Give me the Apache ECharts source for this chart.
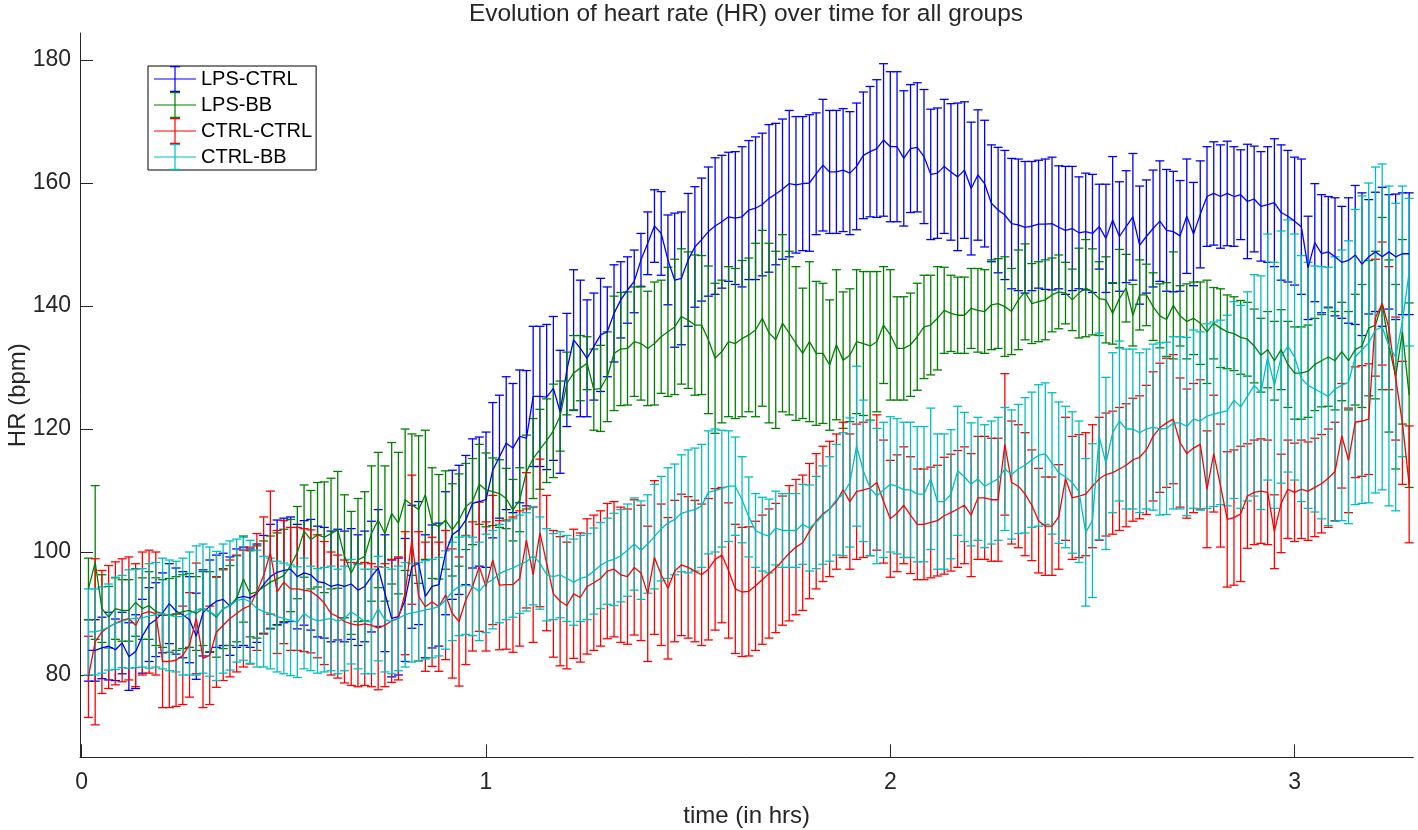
<!DOCTYPE html>
<html><head><meta charset="utf-8">
<script src="https://cdn.jsdelivr.net/npm/echarts@6/dist/echarts.min.js"></script>
<style>html,body{margin:0;padding:0;background:#fff}#c{width:1418px;height:830px}</style>
</head><body><div id="c"></div>
<script>
// sample times: one reading per minute, minute 1 .. 197
const sampleMinutes = Array.from({length: 197}, (_, i) => i + 1);
const timeHours = sampleMinutes.map(m => m / 60);

const xTicks = [0, 1, 2, 3];
const yTicks = [80, 100, 120, 140, 160, 180];

const groupNames = ['LPS-CTRL', 'LPS-BB', 'CTRL-CTRL', 'CTRL-BB'];

const lpsCtrlMean = [84.0,84.0,84.4,84.7,84.1,85.2,83.0,83.8,86.3,88.2,
89.0,90.1,91.6,90.4,89.8,89.0,86.3,90.1,91.2,92.0,
92.3,91.2,92.5,92.8,92.5,93.3,94.7,96.0,96.7,97.0,
97.2,96.0,96.6,96.3,95.2,95.0,94.4,94.7,94.4,94.8,
93.8,94.4,96.0,97.4,93.3,89.2,89.5,92.2,97.6,98.2,
92.8,94.4,94.7,99.8,102.8,103.6,105.2,107.9,108.2,108.5,
113.3,115.5,117.7,116.9,118.8,118.5,125.3,125.3,125.2,126.6,
122.8,129.6,134.5,133.1,131.5,133.4,135.3,135.8,138.8,141.0,
142.6,144.0,147.5,150.2,153.0,151.8,147.5,144.2,144.5,147.5,
149.6,150.8,152.1,153.0,153.7,154.5,154.3,154.5,155.6,155.9,
156.5,157.5,158.2,159.0,159.9,159.7,159.9,160.0,161.5,162.9,
161.8,161.8,162.1,161.6,162.7,164.5,165.1,165.6,167.0,165.9,
165.9,164.0,165.6,165.8,164.3,161.4,161.6,162.7,161.8,161.0,
162.1,159.1,161.3,159.9,156.7,155.6,154.8,153.4,153.2,152.8,
153.0,153.3,153.3,153.4,152.8,152.3,152.6,151.9,152.1,151.8,
152.9,151.0,154.0,151.3,152.9,154.5,149.9,151.3,152.6,153.8,
152.3,152.1,151.4,154.6,151.7,154.9,157.8,158.3,157.8,158.3,
157.8,158.1,157.0,157.4,156.2,156.5,156.8,155.2,154.6,153.8,
152.9,146.2,150.3,148.5,148.8,148.0,147.1,147.4,148.3,146.8,
148.0,148.8,148.0,148.8,148.0,148.5,148.5];
const lpsCtrlErr = [5,5,5,5.5,5,5,5.5,6,6,6,
6,6.5,6.5,7,7,7,7,7,7.5,7.5,
7.5,8,8,8,8,8,8,8.5,8.5,8.5,
8.5,8.5,8.5,9,9,9,9,9,9,9,
9,9,9,9.5,9.5,9.5,9.5,10,10,10,
10,10,10,10,10.5,10.5,10.5,10.5,10.5,11,
11,10,10.8,10.5,10.8,11,11.4,11.4,11.8,11.7,
10.0,9.2,11.4,11.1,9.5,8.7,9.2,7.3,7.9,6.2,
5.4,5.1,4.3,5.1,5.9,6.8,7.3,10.9,10.8,10.8,
9.8,10.0,10.5,11.1,10.8,10.5,10.8,11.4,11.3,11.6,
11.6,12.0,11.5,11.4,11.9,11.1,10.9,11.1,9.9,10.7,
10.0,10.0,10.0,10.0,10.3,10.3,10.6,11.2,12.4,12.2,
12.2,11.0,10.4,10.5,10.9,10.6,10.6,10.9,11.1,12.0,
11.1,10.8,10.6,10.3,9.5,10.2,10.5,10.6,10.7,10.7,
10.5,10.4,10.6,10.8,10.0,10.4,10.1,9.1,9.5,9.6,
6.9,8.8,10.3,8.9,9.1,10.3,9.6,9.2,9.5,9.8,
9.9,9.8,9.0,9.3,8.4,8.7,8.1,8.4,8.4,8.5,
8.1,7.3,9.3,8.6,8.9,9.4,10.4,11.0,10.7,10.4,
11.0,8.4,9.6,9.6,9.0,9.6,9.1,10.2,11.3,11.6,
9.3,9.7,11.3,9.3,10.2,9.9,9.9];

const lpsBbMean = [94.0,98.3,90.8,89.4,90.8,90.5,90.5,91.8,90.8,91.3,
90.3,90.0,89.7,90.0,90.3,90.5,90.0,90.8,90.3,89.4,
90.8,91.3,92.4,95.6,93.2,93.5,94.3,95.1,95.6,96.2,
97.8,99.9,103.4,102.0,102.8,102.4,103.0,103.6,99.3,96.6,
98.7,99.3,103.0,105.2,103.0,106.3,104.7,108.5,107.7,106.9,
109.3,104.7,104.1,105.2,103.6,105.2,107.4,108.2,111.0,110.1,
109.8,109.5,108.7,106.8,108.5,113.0,115.2,116.7,118.1,119.7,
122.1,127.4,129.1,129.9,130.7,126.4,126.6,128.5,132.3,133.0,
133.1,134.2,133.9,133.1,133.9,135.0,135.8,136.6,138.3,137.7,
136.9,136.9,134.5,131.5,132.6,134.2,133.9,134.7,135.3,136.1,
138.0,135.6,134.5,137.2,135.6,133.9,132.3,134.2,132.3,132.3,
130.4,133.7,131.2,132.0,134.2,133.9,133.5,134.2,136.9,135.3,
133.1,133.1,133.7,135.0,136.6,136.9,138.0,139.3,138.8,138.5,
138.5,139.6,139.3,139.1,140.2,140.4,139.9,139.1,141.0,142.3,
140.4,140.7,141.0,141.8,142.3,142.1,141.0,142.1,142.9,142.3,
141.2,141.0,138.8,141.2,142.9,138.5,141.8,141.8,139.9,138.4,
137.8,140.1,138.4,137.5,138.0,137.2,135.8,137.2,136.4,135.8,
135.5,134.9,134.6,133.5,132.0,132.9,131.1,132.9,130.5,129.1,
129.1,129.4,130.5,131.1,131.7,131.1,132.6,131.1,132.9,133.5,
136.4,136.9,140.4,133.5,128.5,135.8,125.5];
const lpsBbErr = [5,12.5,5.5,5,5,5,5,5.5,5,5.5,
5.5,5.5,6,6,6,6,6,6,6.5,6.5,
6.5,6.5,7,7,7,7.5,7.5,7.5,7.5,7.5,
7.5,7.5,7.5,8,8.5,9,9,9.5,10,10,
10,10.5,11,11,11,11.5,11.5,11.5,11.5,12,
10.5,9,8.5,8,7.5,7.5,7,7,6.5,6,
5.5,5.5,4.9,5,5.2,6,6.5,6.5,6.8,7.6,
5.7,5.1,6.1,5.3,4.3,6.6,7,7.3,9.3,9.2,
9.2,8.9,9.2,9.3,10,9.2,10.5,11,11,11.1,
11.4,11.3,12,12.2,11.6,12.2,12.2,12.7,12.5,14.1,
14.3,14.6,14.4,14.4,13.3,12.5,10.6,13.0,11.7,11.4,
10.6,12.2,11.1,10.8,11.7,11.7,12.1,11.4,9.5,10.6,
8.4,8.4,8.4,8.7,8.4,8.1,8.4,7.0,6.2,6.2,
6.2,6.5,6.8,6.8,7.3,7.3,8.1,7.0,8.1,7.8,
6.5,6.5,6.5,6,6,5,5,7.3,7.9,7,
6,7,5,8,5.5,5,5.7,5,5.5,5.2,
6,8.7,4.9,6.1,5.9,6.7,8.4,5.8,6.4,6,
6,6,6,6,6,6.2,6.4,6.5,7,7.5,
7.5,7.5,7.5,7.5,8,8,8,8,9,10,
11,12,14,14,15,15,15];

const ctrlCtrlMean = [79.7,85.4,87.0,87.8,88.4,88.9,89.2,88.1,90.0,90.3,
90.0,82.2,82.2,82.4,83.2,84.9,89.2,82.7,83.2,87.0,
88.1,89.2,90.0,90.8,91.3,93.5,96.2,99.9,93.5,95.1,
94.0,94.0,93.8,93.6,92.8,91.7,90.0,89.5,88.7,88.3,
88.1,88.3,88.1,87.6,88.1,88.8,89.2,93.3,102.0,92.8,
91.1,91.9,91.1,93.0,90.0,88.7,92.2,94.4,97.6,94.4,
98.7,94.6,94.7,94.7,95.7,101.9,96.3,103.1,98.2,93.2,
92.0,91.3,93.2,92.6,94.4,95.0,95.7,96.9,97.2,96.3,
96.0,97.5,96.6,93.2,99.1,96.3,94.1,96.9,97.9,97.5,
96.9,96.3,97.2,98.8,99.5,97.0,94.0,93.5,93.6,94.5,
95.5,96.5,97.4,98.6,99.8,100.8,101.5,103.4,105.0,106.2,
107.0,108.2,110.1,108.2,109.8,110.1,110.4,111.3,108.2,105.4,
106.3,107.6,106.0,104.5,104.5,104.8,105.1,105.9,106.4,107.0,
107.6,106.0,108.8,108.8,108.5,108.5,117.5,111.3,110.7,109.4,
107.6,105.1,104.2,104.2,105.7,111.9,108.8,109.1,109.4,110.7,
111.9,112.6,112.9,113.5,114.1,115.0,115.4,116.6,118.8,120.2,
121.0,121.6,117.8,116.0,116.9,117.5,110.2,116.0,110.8,105.3,
105.6,106.2,109.1,109.7,109.9,109.7,103.3,107.9,110.2,109.7,
110.2,109.9,110.5,111.1,112.0,113.1,118.9,114.9,121.1,121.3,
121.6,138.1,140.4,136.4,128.2,121.0,111.0];
const ctrlCtrlErr = [6.6,13.5,10,10,10,10,10,10,10,10,
10,7.5,7.5,7.5,8,8.5,9,8,8,9,
9,9.5,9.5,9.5,9.5,9.5,9.5,10,10,10,
10,10,10,10,10,10,10,10,10,10,
10,10,10,10,10,10,10,10,10.5,10.5,
10.5,10.5,10.5,10.5,10.5,10.5,10.5,10.5,10.5,10.5,
10.5,10.5,10.5,11,11,11,11,12,11,10.3,
10.5,10.3,10.5,10.5,11,11,11,11,11,11,
11,11,11,11,12.5,11.5,11.5,11.5,11.5,11.5,
11.5,11.5,11.5,11.5,11,11,10.5,10.5,10.5,10.5,
10.5,10.5,10.5,10.5,11,11,11,11,11,11,
11,11,11,11,11,11,11,11,10,9.5,
9.5,9.5,9.5,9,9,9,9,9.5,9.5,9.5,
9.5,10,10,10,10,10,11.5,10,10,10,
9,8.5,8,8,8.5,10,10,10,10,10,
10,10,10,10,10,10,10,10.5,10.5,10.5,
10.5,10.5,10.5,10.5,10.5,10.5,9.5,9.5,10,11,
11,11,8.5,8.5,8.5,8.5,6,8,8,8,
8,8,8,8,8,8,8.5,8.5,9,9,
9,9.5,10,10,10,10,9.5];

const ctrlBbMean = [87.0,87.0,87.3,87.8,88.4,88.7,89.1,89.2,89.3,89.6,
89.8,90.0,89.7,89.5,89.5,90.0,90.5,90.8,90.3,89.6,
90.8,91.3,92.1,92.4,91.9,90.8,90.3,90.0,89.5,89.2,
88.9,88.6,90.0,89.2,88.8,89.0,89.2,88.7,89.2,90.3,
89.5,88.7,88.7,90.8,89.0,88.7,89.2,89.8,90.1,90.3,
90.6,90.8,91.1,92.2,93.6,94.4,94.6,94.4,93.6,94.9,
95.5,96.5,97.0,97.4,98.0,98.4,99.4,98.2,96.3,96.0,
96.3,95.7,95.1,95.7,96.0,96.9,97.8,98.5,98.8,99.4,
100.3,101.3,100.3,101.3,102.5,103.8,104.7,105.3,106.3,106.6,
106.9,107.5,109.7,110.0,110.3,110.7,110.7,108.5,105.7,103.5,
102.9,102.6,103.9,103.5,103.5,103.5,104.5,103.9,104.8,106.0,
107.0,108.5,109.4,111.3,117.2,113.2,110.4,109.1,110.1,111.0,
110.7,110.1,110.1,109.4,109.4,111.9,108.2,108.2,109.4,113.2,
112.2,111.0,111.9,110.7,111.3,111.9,113.5,112.6,113.5,114.1,
115.0,115.7,116.0,114.4,112.9,112.2,111.3,109.8,103.2,105.1,
118.8,114.4,119.4,121.3,120.0,120.0,119.4,120.0,120.3,120.0,
120.1,121.0,121.0,120.4,121.6,121.3,122.1,122.4,122.7,123.0,
124.7,123.6,125.3,127.1,125.9,131.7,127.1,131.7,133.5,131.7,
128.2,127.1,126.5,125.9,125.3,126.5,127.1,127.6,131.7,132.9,
134.0,136.1,136.6,133.5,131.7,137.5,145.5];
const ctrlBbErr = [7,7,7,7,7.5,7.5,8,8,8,8.5,
8.5,9,9,9,9.5,10,10.5,10.5,10.5,10.5,
10.5,10.5,10,10,10,9.5,9,9,9,9,
9,9,9,8.5,8.5,8.5,8.5,8.5,8.5,8.5,
8.5,8.5,8.5,8.5,8.5,8.5,8.5,8.5,8,8,
8,8,8,8,8,8,8,8,8,8,
8,8,8,8,8,8,8,7.5,7.5,7,
7,7,7,7,7,7,7,7,7.5,7.5,
7.5,7.5,8,8,8.5,8.5,9,9,9.5,10,
10,10,10,10,9.5,9,8,7,6.5,6,
6,6,6,6,6,6,6.5,7,7.5,8,
8.5,9,10,10.5,13,11.5,11,11,11,11,
11,11,11,11,11,11.5,11,11,10.5,10.5,
10.5,10,10,10,10,10,10,10.5,10.5,11,
11,11.5,11.5,11.5,11.5,11.5,11.5,11.5,12,12.5,
16.8,14,13,13,13,13,13,13,13.5,14,
14,14,14,14.5,14.5,14.5,15,15,15,15.5,
16,16.5,17,18,19,20,20,20.5,20.5,20,
20,20,20,20.5,21,21.5,22,23,24,25,
26,26.5,26.5,26,25,22,12];

const groupColors = ['#0000FF', '#008000', '#FF0000', '#00BFBF'];
const groupMeans = [lpsCtrlMean, lpsBbMean, ctrlCtrlMean, ctrlBbMean];
const groupErrs = [lpsCtrlErr, lpsBbErr, ctrlCtrlErr, ctrlBbErr];

const FONT = 'Liberation Sans, Arial, Helvetica, sans-serif';
const TXT = '#262626';

// legend icon: horizontal line with an error bar and caps (42 x 26 box)
const legendIcon = 'path://M0,12.4H42V13.6H0Z M20.4,0H21.6V26H20.4Z M16,0H26V1.2H16Z M16,24.8H26V26H16Z';

function makeErrRender(color) {
  return function (params, api) {
    const x = api.value(0);
    const lo = api.coord([x, api.value(1)]);
    const hi = api.coord([x, api.value(2)]);
    const hw = 4.5;
    const style = {stroke: color, lineWidth: 1.3, fill: null};
    return {
      type: 'group',
      children: [
        {type: 'line', shape: {x1: lo[0], y1: lo[1], x2: hi[0], y2: hi[1]}, style: style},
        {type: 'line', shape: {x1: lo[0] - hw, y1: lo[1], x2: lo[0] + hw, y2: lo[1]}, style: style},
        {type: 'line', shape: {x1: hi[0] - hw, y1: hi[1], x2: hi[0] + hw, y2: hi[1]}, style: style}
      ]
    };
  };
}

const series = [];
groupNames.forEach((name, g) => {
  const mean = groupMeans[g], err = groupErrs[g], color = groupColors[g];
  series.push({
    name: name,
    type: 'custom',
    renderItem: makeErrRender(color),
    itemStyle: {color: color},
    encode: {x: 0, y: [1, 2]},
    data: timeHours.map((t, i) => [t, mean[i] - err[i], mean[i] + err[i]]),
    silent: true
  });
  series.push({
    name: name,
    type: 'line',
    symbol: 'none',
    lineStyle: {color: color, width: 1.3},
    itemStyle: {color: color},
    data: timeHours.map((t, i) => [t, mean[i]]),
    silent: true
  });
});

const chart = echarts.init(document.getElementById('c'), null, {renderer: 'canvas'});
chart.setOption({
  animation: false,
  backgroundColor: '#fff',
  title: {
    text: 'Evolution of heart rate (HR) over time for all groups',
    left: 746, top: 2, padding: 0, textAlign: 'center',
    textStyle: {fontFamily: FONT, fontSize: 24.5, fontWeight: 'normal', color: TXT}
  },
  grid: {left: 80, top: 33, width: 1333.3, height: 724.3, containLabel: false, outerBoundsMode: 'none'},
  legend: {
    left: 148, top: 66, orient: 'vertical',
    itemWidth: 42, itemHeight: 26, itemGap: 0,
    padding: [0, 4, 0, 6],
    backgroundColor: '#fff', borderColor: '#000', borderWidth: 1, borderRadius: 0,
    selectedMode: false,
    itemStyle: {borderWidth: 0},
    textStyle: {fontFamily: FONT, fontSize: 20, color: '#000'},
    data: groupNames.map((n, g) => ({name: n, icon: legendIcon, itemStyle: {color: groupColors[g], borderWidth: 0}}))
  },
  xAxis: {
    type: 'value', min: -0.0042, max: 3.2936,
    name: 'time (in hrs)', nameLocation: 'middle', nameGap: 47, nameMoveOverlap: false,
    nameTextStyle: {fontFamily: FONT, fontSize: 24, color: TXT},
    axisLine: {show: true, onZero: false, lineStyle: {color: TXT, width: 1}},
    axisTick: {show: true, inside: true, length: 13, customValues: xTicks, lineStyle: {color: TXT, width: 1}},
    axisLabel: {customValues: xTicks, fontFamily: FONT, fontSize: 23, color: TXT, margin: 14},
    splitLine: {show: false}
  },
  yAxis: {
    type: 'value', min: 66.62, max: 184.39,
    name: 'HR (bpm)', nameLocation: 'middle', nameGap: 50, nameRotate: 90, nameMoveOverlap: false,
    nameTextStyle: {fontFamily: FONT, fontSize: 24, color: TXT},
    axisLine: {show: true, onZero: false, lineStyle: {color: TXT, width: 1}},
    axisTick: {show: true, inside: true, length: 13, customValues: yTicks, lineStyle: {color: TXT, width: 1}},
    axisLabel: {customValues: yTicks, fontFamily: FONT, fontSize: 23, color: TXT, margin: 9},
    splitLine: {show: false}
  },
  series: series
});
</script>
</body></html>
